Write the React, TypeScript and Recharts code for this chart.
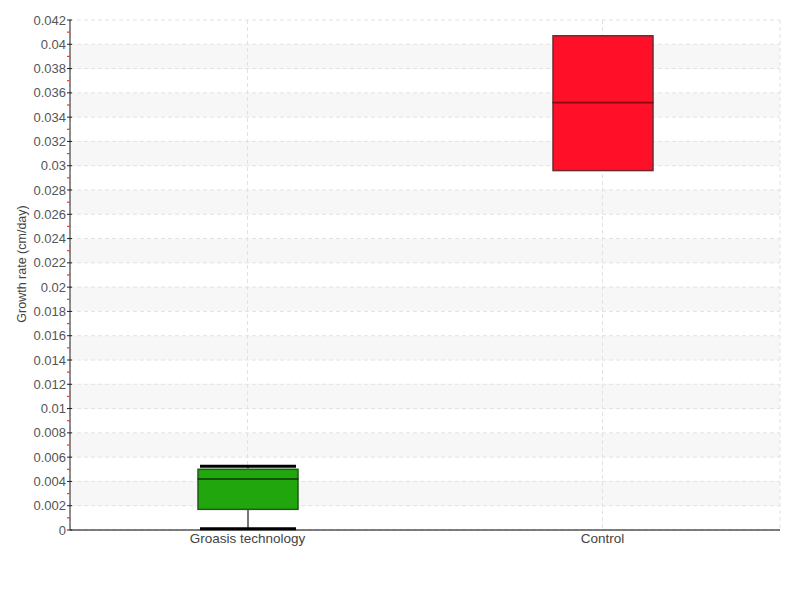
import React from "react";
import { ComposedChart, Bar, XAxis, YAxis, CartesianGrid, Label } from "recharts";

// Box plot summary per treatment (cm/day)
const categories = ["Groasis technology", "Control"];
const minValues = [0.0001, 0.0296];
const q1Values = [0.0017, 0.0296];
const medianValues = [0.0042, 0.0352];
const q3Values = [0.005, 0.0407];
const maxValues = [0.00525, 0.0407];

const majorTicks = [
    0, 0.002, 0.004, 0.006, 0.008, 0.01, 0.012, 0.014, 0.016, 0.018, 0.02,
    0.022, 0.024, 0.026, 0.028, 0.03, 0.032, 0.034, 0.036, 0.038, 0.04, 0.042,
];
const minorTicks = [
    0.001, 0.003, 0.005, 0.007, 0.009, 0.011, 0.013, 0.015, 0.017, 0.019, 0.021,
    0.023, 0.025, 0.027, 0.029, 0.031, 0.033, 0.035, 0.037, 0.039, 0.041,
];
const allTicks = [...majorTicks, ...minorTicks].sort((a, b) => a - b);

const boxFill = ["#22a60e", "#ff1028"];
const boxStroke = ["#1f5a16", "#6e2a2e"];
const medianStroke = ["#0f4a0a", "#8c0a16"];

const FONT = "'Liberation Sans', Arial, sans-serif";
const TICK_GAP = 4;

const data = categories.map((name, i) => ({
    name,
    base: minValues[i],
    lowWhisker: q1Values[i] - minValues[i],
    lowBox: medianValues[i] - q1Values[i],
    highBox: q3Values[i] - medianValues[i],
    highWhisker: maxValues[i] - q3Values[i],
}));

const Empty = () => <g />;

const LowWhisker = (props: any) => {
    const { x, y, width, height } = props;
    if (!(height > 0.5)) return <g />;
    const cx = x + width / 2;
    return (
        <g>
            <line x1={cx} x2={cx} y1={y} y2={y + height} stroke="#777" strokeWidth={2} />
            <line x1={x + 2} x2={x + width - 2} y1={y + height} y2={y + height} stroke="#000" strokeWidth={3} />
        </g>
    );
};

const HighWhisker = (props: any) => {
    const { x, y, width, height } = props;
    if (!(height > 0.5)) return <g />;
    const cx = x + width / 2;
    return (
        <g>
            <line x1={cx} x2={cx} y1={y} y2={y + height} stroke="#777" strokeWidth={2} />
            <line x1={x + 2} x2={x + width - 2} y1={y} y2={y} stroke="#000" strokeWidth={3} />
        </g>
    );
};

const LowBox = (props: any) => {
    const { x, y, width, height, index } = props;
    return <rect x={x} y={y} width={width} height={height} fill={boxFill[index]} stroke={boxStroke[index]} strokeWidth={1.5} />;
};

const HighBox = (props: any) => {
    const { x, y, width, height, index } = props;
    return (
        <g>
            <rect x={x} y={y} width={width} height={height} fill={boxFill[index]} stroke={boxStroke[index]} strokeWidth={1.5} />
            <line x1={x} x2={x + width} y1={y + height} y2={y + height} stroke={medianStroke[index]} strokeWidth={1.5} />
        </g>
    );
};

// labels on even ticks, short red marks on the odd ones
const YTick = (props: any) => {
    const { x, y, payload } = props;
    const ax = x + TICK_GAP;
    const major = majorTicks.includes(payload.value);
    if (!major) {
        return <line x1={ax - 3} x2={ax} y1={y} y2={y} stroke="#ff3030" strokeWidth={1.2} />;
    }
    return (
        <g>
            <line x1={ax - 3} x2={ax + 2} y1={y} y2={y} stroke="#222" strokeWidth={1} />
            <text x={x} y={y} textAnchor="end" dominantBaseline="central" fill="#555" fontSize={13} fontFamily={FONT}>
                {String(payload.value)}
            </text>
        </g>
    );
};

const App = () => {
    return (
        <div style={{ position: "absolute", left: 0, top: 0 }}>
            <ComposedChart width={800} height={600} data={data} margin={{ top: 20, right: 20, bottom: 40, left: 0 }}>
                <CartesianGrid
                    stroke="#e2e2e2"
                    strokeDasharray="4 3"
                    horizontalValues={majorTicks}
                    horizontalFill={["#ffffff", "#f7f7f7"]}
                />
                <YAxis
                    type="number"
                    domain={[0, 0.042]}
                    ticks={allTicks}
                    interval={0}
                    width={70}
                    axisLine={{ stroke: "#222" }}
                    tickSize={0}
                    tickMargin={TICK_GAP}
                    tickLine={false}
                    tick={<YTick />}
                >
                    <Label
                        content={({ viewBox }: any) => {
                            const lx = viewBox.x + 22;
                            const ly = viewBox.y + viewBox.height / 2 - 11;
                            return (
                                <text
                                    x={lx}
                                    y={ly}
                                    transform={`rotate(-90, ${lx}, ${ly})`}
                                    textAnchor="middle"
                                    dominantBaseline="central"
                                    fill="#444"
                                    fontSize={12.5}
                                    fontFamily={FONT}
                                >
                                    Growth rate (cm/day)
                                </text>
                            );
                        }}
                    />
                </YAxis>
                <XAxis
                    dataKey="name"
                    height={30}
                    axisLine={{ stroke: "#000" }}
                    tickLine={false}
                    tickSize={0}
                    tickMargin={3}
                    tick={{ fill: "#444", fontSize: 13.5, fontFamily: FONT }}
                />
                <Bar dataKey="base" stackId="box" barSize={100} shape={Empty} isAnimationActive={false} />
                <Bar dataKey="lowWhisker" stackId="box" barSize={100} shape={LowWhisker} isAnimationActive={false} />
                <Bar dataKey="lowBox" stackId="box" barSize={100} shape={LowBox} isAnimationActive={false} />
                <Bar dataKey="highBox" stackId="box" barSize={100} shape={HighBox} isAnimationActive={false} />
                <Bar dataKey="highWhisker" stackId="box" barSize={100} shape={HighWhisker} isAnimationActive={false} />
            </ComposedChart>
        </div>
    );
};

export default App;
